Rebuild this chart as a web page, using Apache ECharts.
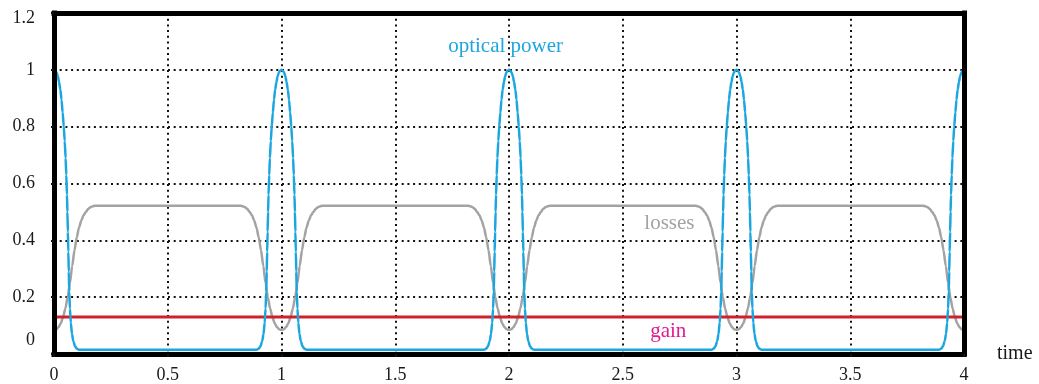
<!DOCTYPE html>
<html>
<head>
<meta charset="utf-8">
<script src="https://cdn.jsdelivr.net/npm/echarts@6/dist/echarts.min.js"></script>
<style>
  html, body { margin: 0; padding: 0; background: #fff; }
  #chart { width: 1039px; height: 384px; }
</style>
</head>
<body>
<div id="chart"></div>
<script>
// Axis ticks
const xTicks = [0, 0.5, 1, 1.5, 2, 2.5, 3, 3.5, 4];
const yTicks = [0, 0.2, 0.4, 0.6, 0.8, 1, 1.2];

// Round-trip times at which the pulse passes
const pulseCenters = [0, 1, 2, 3, 4];

// Optical power across one pulse: offset from pulse centre -> power
const powerOffsets = [
  -0.11, -0.1, -0.092, -0.085, -0.079, -0.074, -0.07, -0.067, -0.065, -0.063, -0.061, -0.059,
  -0.057, -0.054, -0.051, -0.047, -0.043, -0.038, -0.033, -0.028, -0.022, -0.017, -0.012, -0.006, 0,
  0.006, 0.012, 0.017, 0.022, 0.028, 0.033, 0.038, 0.043, 0.047, 0.051, 0.054, 0.057,
  0.059, 0.061, 0.063, 0.065, 0.067, 0.07, 0.074, 0.079, 0.085, 0.092, 0.1, 0.11
];
const powerValues = [
  0.015, 0.019, 0.028, 0.045, 0.07, 0.11, 0.16, 0.22, 0.29, 0.36, 0.43, 0.5,
  0.56, 0.63, 0.69, 0.75, 0.8, 0.85, 0.895, 0.93, 0.958, 0.977, 0.99, 0.997, 1.0,
  0.997, 0.99, 0.977, 0.958, 0.93, 0.895, 0.85, 0.8, 0.75, 0.69, 0.63, 0.56,
  0.5, 0.43, 0.36, 0.29, 0.22, 0.16, 0.11, 0.07, 0.045, 0.028, 0.019, 0.015
];

// Saturable losses across one pulse: offset from pulse centre -> loss
const lossOffsets = [
  -0.18, -0.17, -0.16, -0.15, -0.14, -0.13, -0.12, -0.11, -0.1, -0.09, -0.08, -0.07, -0.06,
  -0.05, -0.04, -0.03, -0.02, -0.01, 0,
  0.01, 0.02, 0.03, 0.04, 0.05, 0.06, 0.07, 0.08, 0.09, 0.1, 0.11, 0.12, 0.13, 0.14,
  0.15, 0.16, 0.17, 0.18
];
const lossValues = [
  0.522, 0.52, 0.516, 0.51, 0.5, 0.488, 0.47, 0.445, 0.41, 0.365, 0.31, 0.25, 0.2,
  0.16, 0.13, 0.108, 0.095, 0.087, 0.085,
  0.087, 0.095, 0.108, 0.13, 0.16, 0.2, 0.25, 0.31, 0.365, 0.41, 0.445, 0.47, 0.488, 0.5,
  0.51, 0.516, 0.52, 0.522
];

// Constant gain level
const gainTimes = [0, 4];
const gainValues = [0.13, 0.13];

// Curve annotations: text, time, value
const curveLabels = [
  { text: 'optical power', t: 1.985, v: 1.082, color: '#1ca6df' },
  { text: 'losses',        t: 2.705, v: 0.46,  color: '#a3a3a3' },
  { text: 'gain',          t: 2.70,  v: 0.08,  color: '#e31b8c' }
];

const SERIF = '"Liberation Serif", "DejaVu Serif", serif';

function pulseTrain(offsets, values) {
  const pts = [];
  pulseCenters.forEach(c => {
    offsets.forEach((o, i) => pts.push([+(c + o).toFixed(4), values[i]]));
  });
  return pts;
}

const powerData = pulseTrain(powerOffsets, powerValues);
const lossData = pulseTrain(lossOffsets, lossValues);
const gainData = gainTimes.map((t, i) => [t, gainValues[i]]);

const frameLine = { show: true, onZero: false, lineStyle: { color: '#000', width: 5, cap: 'square' } };
const dotted = { show: true, lineStyle: { color: '#111', width: 2, type: [2, 3.7] } };
const xMin = xTicks[0], xMax = xTicks[xTicks.length - 1], xStep = xTicks[1] - xTicks[0];
const yMin = yTicks[0], yMax = yTicks[yTicks.length - 1], yStep = +(yTicks[1] - yTicks[0]).toFixed(4);
const tickFont = { fontFamily: SERIF, fontSize: 18, color: '#1a1a1a' };

const chart = echarts.init(document.getElementById('chart'), null, { renderer: 'canvas' });
chart.setOption({
  animation: false,
  backgroundColor: '#fff',
  grid: { left: 54, right: 75, top: 13, bottom: 30, containLabel: false },
  xAxis: [
    {
      type: 'value', min: xMin, max: xMax, interval: xStep, position: 'bottom', z: 5,
      axisLine: frameLine,
      axisTick: { show: true, length: 3, lineStyle: { color: '#111', width: 2 } },
      axisLabel: Object.assign({ margin: 12,
                   formatter: v => String(xTicks.find(t => Math.abs(t - v) < 1e-6)) }, tickFont),
      splitLine: { show: false },
      name: 'time', nameLocation: 'end', nameGap: 33,
      nameTextStyle: { fontFamily: SERIF, fontSize: 20, color: '#1a1a1a', padding: [0, 0, 16, 0] }
    },
    {
      type: 'value', min: xMin, max: xMax, position: 'top', z: 5,
      axisLine: frameLine, axisTick: { show: false }, axisLabel: { show: false }, splitLine: { show: false }
    },
    {
      type: 'value', min: xMin, max: xMax, interval: xStep, position: 'bottom', z: 0,
      axisLine: { show: false }, axisTick: { show: false }, axisLabel: { show: false }, splitLine: dotted
    }
  ],
  yAxis: [
    {
      type: 'value', min: yMin, max: yMax, interval: yStep, position: 'left', z: 5,
      axisLine: frameLine,
      axisTick: { show: true, length: 3, lineStyle: { color: '#111', width: 2 } },
      axisLabel: Object.assign({
        margin: 19,
        formatter: v => {
          const lab = String(yTicks.find(t => Math.abs(t - v) < 1e-6));
          if (Math.abs(v - yMin) < 1e-6) return '{lo|' + lab + '}';
          if (Math.abs(v - yMax) < 1e-6) return '{hi|' + lab + '}';
          return lab;
        },
        rich: {
          lo: Object.assign({ padding: [0, 0, 28, 0] }, tickFont),
          hi: Object.assign({ padding: [10, 0, 0, 0] }, tickFont)
        }
      }, tickFont),
      splitLine: { show: false }
    },
    {
      type: 'value', min: yMin, max: yMax, position: 'right', z: 5,
      axisLine: frameLine, axisTick: { show: false }, axisLabel: { show: false }, splitLine: { show: false }
    },
    {
      type: 'value', min: yMin, max: yMax, interval: yStep, position: 'left', z: 0,
      axisLine: { show: false }, axisTick: { show: false }, axisLabel: { show: false }, splitLine: dotted
    }
  ],
  series: [
    {
      name: 'losses', type: 'line', xAxisIndex: 0, yAxisIndex: 0,
      data: lossData, showSymbol: false, smooth: 0.25, smoothMonotone: 'x',
      lineStyle: { color: '#a3a3a3', width: 2.5 }, z: 2
    },
    {
      name: 'gain', type: 'line', xAxisIndex: 0, yAxisIndex: 0,
      data: gainData, showSymbol: false,
      lineStyle: { color: '#d21f2e', width: 3 }, z: 3
    },
    {
      name: 'optical power', type: 'line', xAxisIndex: 0, yAxisIndex: 0,
      data: powerData, showSymbol: false, smooth: 0.25, smoothMonotone: 'x',
      lineStyle: { color: '#1ca6df', width: 2.5 }, z: 4,
      markPoint: {
        symbol: 'circle', symbolSize: 0, silent: true,
        data: curveLabels.map(l => ({
          coord: [l.t, l.v],
          label: { show: true, position: 'inside', formatter: l.text,
                   fontFamily: SERIF, fontSize: 21, color: l.color }
        }))
      }
    }
  ]
});
</script>
</body>
</html>
